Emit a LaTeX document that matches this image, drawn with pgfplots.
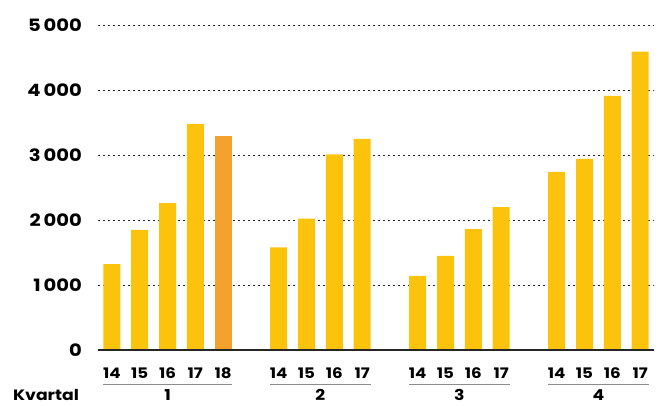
\documentclass[border=0pt]{standalone}
\usepackage{fontspec}
\setmainfont{Poppins}[FakeStretch=1.15]
\usepackage{pgfplots}
\pgfplotsset{compat=1.18}
\definecolor{barY}{RGB}{251,195,12}
\definecolor{barO}{RGB}{244,161,45}
\begin{document}
\begin{tikzpicture}
\useasboundingbox (0,0) rectangle (663pt,405pt);
\begin{axis}[
  at={(98pt,55pt)}, anchor=south west,
  scale only axis, width=556pt, height=325pt,
  xmin=-0.5, xmax=19.5, ymin=0, ymax=5000,
  ybar, bar width=17pt, bar shift=0pt,
  axis line style={draw=none},
  major tick length=0pt,
  ytick={0,1000,2000,3000,4000,5000},
  ymajorgrids,
  grid style={black!85, line width=0.8pt, dash pattern=on 2.4pt off 2.6pt},
  xtick={0,1,2,3,4,6,7,8,9,11,12,13,14,16,17,18,19},
  xticklabels={14,15,16,17,18,14,15,16,17,14,15,16,17,14,15,16,17},
  /pgf/number format/assume math mode=true,
  /pgf/number format/1000 sep={\,},
  yticklabel style={anchor=east, inner sep=0pt, xshift=-16pt, font=\fontsize{17}{20}\selectfont\bfseries},
  xticklabel style={anchor=base, inner sep=0pt, yshift=-28.5pt, font=\fontsize{14.5}{16}\selectfont\bfseries},
  clip=false,
]
\addplot[fill=barY, draw=none] coordinates {
  (0,1320) (1,1850) (2,2260) (3,3480)
  (6,1580) (7,2020) (8,3010) (9,3250)
  (11,1140) (12,1450) (13,1860) (14,2200)
  (16,2740) (17,2940) (18,3910) (19,4590)};
\addplot[fill=barO, draw=none] coordinates {(4,3290)};
\draw[black!85, line width=1.4pt] (axis cs:-0.5,0) -- (axis cs:19.5,0);
\draw[black!45, line width=0.9pt] ([xshift=-8.5pt,yshift=-34.5pt]axis cs:0,0) -- ([xshift=8.5pt,yshift=-34.5pt]axis cs:4,0);
\draw[black!45, line width=0.9pt] ([xshift=-8.5pt,yshift=-34.5pt]axis cs:6,0) -- ([xshift=8.5pt,yshift=-34.5pt]axis cs:9,0);
\draw[black!45, line width=0.9pt] ([xshift=-8.5pt,yshift=-34.5pt]axis cs:11,0) -- ([xshift=8.5pt,yshift=-34.5pt]axis cs:14,0);
\draw[black!45, line width=0.9pt] ([xshift=-8.5pt,yshift=-34.5pt]axis cs:16,0) -- ([xshift=8.5pt,yshift=-34.5pt]axis cs:19,0);
\node[anchor=base, inner sep=0pt, font=\fontsize{15}{17}\selectfont\bfseries] at ([yshift=-50.5pt]axis cs:2,0) {1};
\node[anchor=base, inner sep=0pt, font=\fontsize{15}{17}\selectfont\bfseries] at ([yshift=-50.5pt]axis cs:7.5,0) {2};
\node[anchor=base, inner sep=0pt, font=\fontsize{15}{17}\selectfont\bfseries] at ([yshift=-50.5pt]axis cs:12.5,0) {3};
\node[anchor=base, inner sep=0pt, font=\fontsize{15}{17}\selectfont\bfseries] at ([yshift=-50.5pt]axis cs:17.5,0) {4};
\node[anchor=base west, inner sep=0pt, font=\fontsize{15}{17}\selectfont\bfseries] at ([xshift=-85pt,yshift=-50.5pt]axis cs:-0.5,0) {Kvartal};
\end{axis}
\end{tikzpicture}
\end{document}
